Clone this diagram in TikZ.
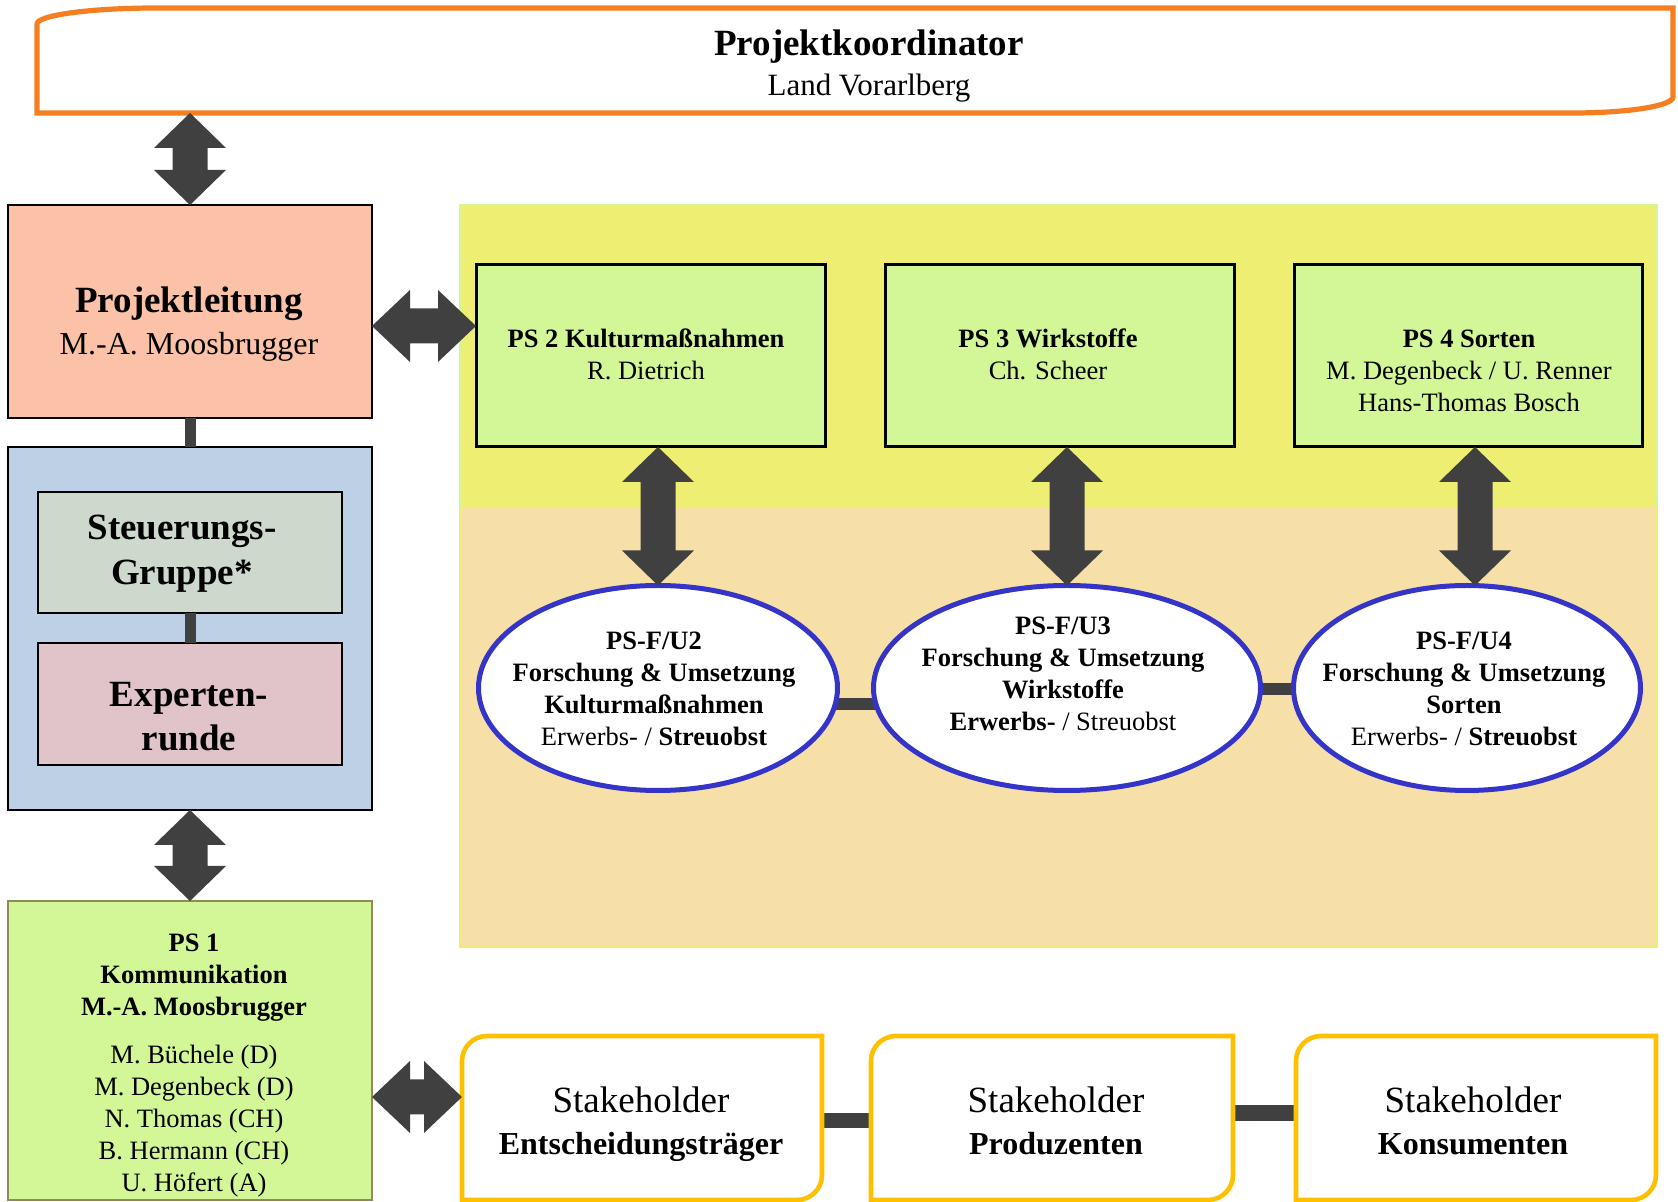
\documentclass[tikz,border=0pt]{standalone}
\usepackage{fontspec}
\setmainfont{Liberation Serif}
\usetikzlibrary{calc,shapes.geometric}
\pgfdeclarelayer{bg}\pgfdeclarelayer{mid}\pgfsetlayers{bg,mid,main}
\definecolor{orangeC}{HTML}{F57F20}
\definecolor{salmonC}{HTML}{FCC2A8}
\definecolor{blueC}{HTML}{BED0E6}
\definecolor{steuerC}{HTML}{CED9CD}
\definecolor{expC}{HTML}{E1C4C9}
\definecolor{lgreenC}{HTML}{D3F697}
\definecolor{yellowC}{HTML}{EEEF72}
\definecolor{beigeC}{HTML}{F7E0A8}
\definecolor{darkC}{HTML}{404040}
\definecolor{ellC}{HTML}{3434C8}
\definecolor{goldC}{HTML}{FFC000}
\definecolor{oliveC}{HTML}{8F8A58}
% vertical double block arrow: #1 upper point, #2 lower point
\newcommand\vdbl[2]{\fill[darkC] let \p1=(#1), \p2=(#2) in
  (\x1,\y1) -- (\x1+18pt,\y1-17.5pt) -- (\x1+8.75pt,\y1-17.5pt) --
  (\x1+8.75pt,\y2+17.5pt) -- (\x1+18pt,\y2+17.5pt) -- (\x1,\y2) --
  (\x1-18pt,\y2+17.5pt) -- (\x1-8.75pt,\y2+17.5pt) --
  (\x1-8.75pt,\y1-17.5pt) -- (\x1-18pt,\y1-17.5pt) -- cycle;}
% horizontal double block arrow: #1 left point, #2 right point
\newcommand\hdbl[2]{\fill[darkC] let \p1=(#1), \p2=(#2) in
  (\x1,\y1) -- (\x1+19pt,\y1+18pt) -- (\x1+19pt,\y1+8.75pt) --
  (\x2-19pt,\y1+8.75pt) -- (\x2-19pt,\y1+18pt) -- (\x2,\y1) --
  (\x2-19pt,\y1-18pt) -- (\x2-19pt,\y1-8.75pt) --
  (\x1+19pt,\y1-8.75pt) -- (\x1+19pt,\y1-18pt) -- cycle;}
\begin{document}
\begin{tikzpicture}[x=0.5pt,y=-0.5pt,
  box/.style={rectangle,draw=black,line width=1.2pt,inner sep=0pt,outer sep=0pt},
  psbox/.style={box,fill=lgreenC,line width=1.5pt,minimum width=174.5pt,minimum height=91pt},
  ell/.style={ellipse,draw=ellC,fill=white,line width=2.5pt,inner sep=0pt,outer sep=0pt,minimum height=102.5pt},
  frameshape/.style={rectangle,inner sep=0pt,outer sep=0pt,minimum height=82pt},
  shbord/.style={draw=goldC,fill=white,line width=2.3pt},
  txt/.style={align=center,inner sep=0pt,font=\fontsize{13.25}{16}\selectfont},
  bar/.style={draw=darkC,line width=#1},
  bar/.default=6pt]
\useasboundingbox (0,0) rectangle (1678,1202);

% background regions
\begin{pgfonlayer}{bg}
\fill[yellowC,draw=lgreenC,line width=0.75pt] (460,205) rectangle (1657,508);
\fill[beigeC] (460,508) rectangle (1657,947);
\draw[yellowC,line width=0.75pt] (460,508) -- (460,947) -- (1657,947) -- (1657,508);
\end{pgfonlayer}

% top coordinator
\node[frameshape,minimum width=818pt,minimum height=52.5pt] (koord) at (855,60.5) {};
\draw[orangeC,line width=2.6pt,fill=white]
  (koord.south west) -- ([yshift=-8pt]koord.north west)
  arc[start angle=180,end angle=90,x radius=60pt,y radius=8pt]
  -- (koord.north east) -- ([yshift=8pt]koord.south east)
  arc[start angle=0,end angle=-90,x radius=50pt,y radius=8pt] -- cycle;
\node[txt,font=\fontsize{15.5}{20}\selectfont] (koordtxt) at (869,66)
  {{\fontsize{18.5}{20}\selectfont\bfseries Projektkoordinator}\\Land Vorarlberg};

% left column
\node[box,fill=salmonC,minimum width=182pt,minimum height=106.5pt] (leit) at (190,311.5) {};
\node[txt,font=\fontsize{16}{21}\selectfont] (leittxt) at (189,324)
  {{\fontsize{18.5}{21}\selectfont\bfseries Projektleitung}\\M.-A. Moosbrugger};
\node[box,fill=blueC,minimum width=182pt,minimum height=181.5pt] (blue) at (190,628.5) {};
\node[box,fill=steuerC,minimum width=152pt,minimum height=60.5pt] (steuer) at (190,552.5) {};
\node[txt,font=\fontsize{18.5}{22.5}\selectfont\bfseries] (steuertxt) at (182,554) {Steuerungs-\\Gruppe*};
\node[box,fill=expC,minimum width=152pt,minimum height=61pt] (exp) at (190,704) {};
\node[txt,font=\fontsize{18.5}{22}\selectfont\bfseries] (exptxt) at (189,717) {Experten-\\runde};
\node[box,draw=oliveC,fill=lgreenC,minimum width=182pt,minimum height=149.5pt] (ps1) at (190,1050.5) {};
\node[txt] (ps1txt) at (194,1066)
  {\textbf{PS 1}\\\textbf{Kommunikation}\\\textbf{M.-A. Moosbrugger}\\[8pt]
   M. Büchele (D)\\M. Degenbeck (D)\\N. Thomas (CH)\\B. Hermann (CH)\\U. Höfert (A)};

% PS boxes
\node[psbox] (ps2) at (650.5,356) {};
\node[psbox] (ps3) at (1059.5,356) {};
\node[psbox,minimum width=174pt] (ps4) at (1468,356) {};
\node[txt] (ps2txt) at (646,354) {\textbf{PS 2 Kulturmaßnahmen}\\R. Dietrich};
\node[txt] (ps3txt) at (1048,354) {\textbf{PS 3 Wirkstoffe}\\Ch. Scheer};
\node[txt] (ps4txt) at (1469,371) {\textbf{PS 4 Sorten}\\M. Degenbeck / U. Renner\\Hans-Thomas Bosch};

% ellipses
\node[ell,minimum width=179.5pt] (e2) at (658,688) {};
\node[ell,minimum width=193.5pt] (e3) at (1067,688) {};
\node[ell,minimum width=173.5pt] (e4) at (1467,688) {};
\node[txt] (e2txt) at (654,689)
  {\textbf{PS-F/U2}\\\textbf{Forschung \& Umsetzung}\\\textbf{Kulturmaßnahmen}\\Erwerbs- / \textbf{Streuobst}};
\node[txt] (e3txt) at (1063,674)
  {\textbf{PS-F/U3}\\\textbf{Forschung \& Umsetzung}\\\textbf{Wirkstoffe}\\\textbf{Erwerbs-} / Streuobst};
\node[txt] (e4txt) at (1464,689)
  {\textbf{PS-F/U4}\\\textbf{Forschung \& Umsetzung}\\\textbf{Sorten}\\Erwerbs- / \textbf{Streuobst}};

% stakeholders
\node[frameshape,minimum width=180pt] (s1) at (642,1118) {};
\node[frameshape,minimum width=181pt] (s2) at (1052,1118) {};
\node[frameshape,minimum width=180pt] (s3) at (1476,1118) {};
\foreach \s in {s1,s2,s3}{
  \draw[shbord] (\s.south west) -- ([yshift=-12.5pt]\s.north west)
    arc[start angle=180,end angle=90,radius=12.5pt] -- (\s.north east)
    -- ([yshift=12.5pt]\s.south east) arc[start angle=0,end angle=-90,radius=12.5pt] -- cycle;}
\node[txt,font=\fontsize{16}{21}\selectfont] (s1txt) at (641,1124)
  {{\fontsize{18.5}{21}\selectfont Stakeholder}\\\textbf{Entscheidungsträger}};
\node[txt,font=\fontsize{16}{21}\selectfont] (s2txt) at (1056,1120.5)
  {{\fontsize{18.5}{21}\selectfont Stakeholder}\\\textbf{Produzenten}};
\node[txt,font=\fontsize{16}{21}\selectfont] (s3txt) at (1473,1120.5)
  {{\fontsize{18.5}{21}\selectfont Stakeholder}\\\textbf{Konsumenten}};

% plain connectors
\draw[bar=5.5pt] (leit.south) -- (blue.north);
\draw[bar=5.5pt] (steuer.south) -- (exp.north);
\begin{pgfonlayer}{mid}
\draw[bar=6pt] ($(e2.center)+(170,16)$) -- ($(e3.center)+(-185,16)$);
\draw[bar=6pt] ($(e3.center)+(185,1)$) -- ($(e4.center)+(-165,1)$);
\draw[bar=7.5pt] ([yshift=-1.5pt]s1.east) -- ([yshift=-1.5pt]s2.west);
\draw[bar=8pt] ([yshift=2.5pt]s2.east) -- ([yshift=2.5pt]s3.west);
\end{pgfonlayer}

% block arrows
\coordinate (a3) at (0,326);
\coordinate (a7) at (0,1097);
\coordinate (a6) at (1475,0);
\vdbl{koord.south -| leit.north}{leit.north}
\vdbl{blue.south}{ps1.north}
\hdbl{leit.east |- a3}{ps2.west |- a3}
\hdbl{ps1.east |- a7}{s1.west |- a7}
\vdbl{ps2.south -| e2.north}{e2.north}
\vdbl{ps3.south -| e3.north}{e3.north}
\vdbl{ps4.south -| a6}{e4.north -| a6}
\end{tikzpicture}
\end{document}
